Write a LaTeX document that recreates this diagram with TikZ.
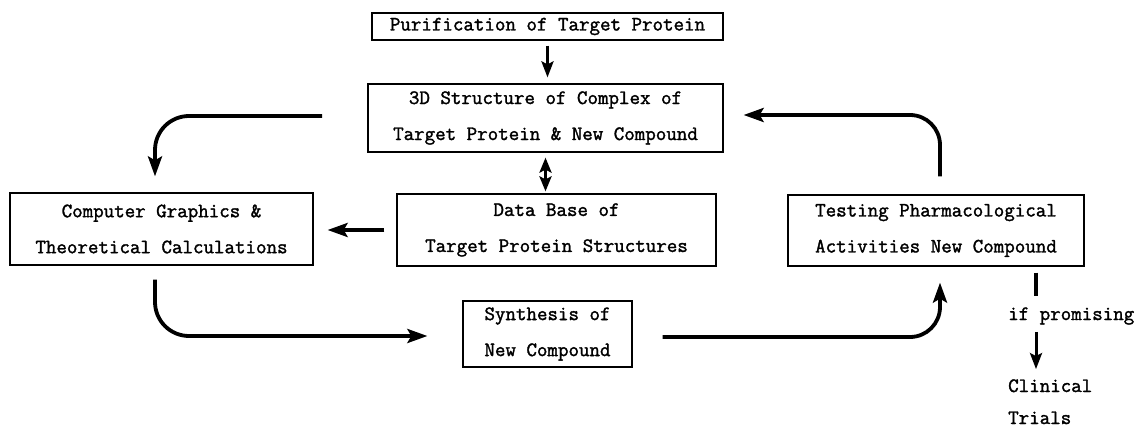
\documentclass[tikz,border=0pt]{standalone}
\usepackage{fontspec}
\newfontfamily\courlike{Latin Modern Mono}[FakeBold=1.6]
\usetikzlibrary{arrows.meta}
\newcommand\boxfont{\fontsize{20.4}{36}\selectfont\courlike}
\begin{document}
\begin{tikzpicture}[x=1pt,y=-1pt,
  box/.style={draw, line width=1.2pt, inner sep=0pt, align=center, font=\boxfont},
  lbl/.style={inner sep=0pt, font=\boxfont, anchor=base west},
  arr/.style={line width=3.8pt, -{Stealth[length=20pt,width=14pt,inset=4pt]}},
  arrs/.style={line width=3pt, -{Stealth[length=16pt,width=12pt,inset=3pt]}},
  dbl/.style={line width=3pt, {Stealth[length=15pt,width=12pt,inset=3pt]}-{Stealth[length=15pt,width=12pt,inset=3pt]}},
  plain/.style={line width=3.5pt}]
\useasboundingbox (0,0) rectangle (1138,428);
\fill[white] (0,0) rectangle (1138,428);

\node[box, minimum width=351pt, minimum height=27pt] (pur) at (547.5,26.5) {Purification of Target Protein};
\node[box, minimum width=355pt, minimum height=68pt] (str) at (545.5,118) {3D Structure of Complex of\\Target Protein \& New Compound};
\node[box, minimum width=319pt, minimum height=72pt] (db) at (556.5,230) {Data Base of\\Target Protein Structures};
\node[box, minimum width=303pt, minimum height=72pt] (cg) at (161.5,229) {Computer Graphics \&\\Theoretical Calculations};
\node[box, minimum width=296pt, minimum height=71pt] (tst) at (936,230.5) {Testing Pharmacological\\Activities New Compound};
\node[box, minimum width=169pt, minimum height=66pt] (syn) at (547.5,334) {Synthesis of\\New Compound};

\node[lbl] (ifp) at (1008,320) {if promising};
\node[lbl] (clin) at (1008,392) {Clinical};
\node[lbl] (tri) at (1008,424) {Trials};

% straight connectors
\draw[arrs, shorten <=5pt, shorten >=6pt] (pur.south) -- (pur.south |- str.north);
\draw[dbl, shorten <=5pt, shorten >=2pt] (str.south) -- (str.south |- db.north);
\draw[arr, shorten <=12pt, shorten >=14pt] (db.west) -- (db.west -| cg.east);

% loop connectors
\coordinate (tl) at (322,116);
\draw[arr, rounded corners=34pt] (tl) -| ([shift={(-6.5,-16)}]cg.north);
\draw[arr, rounded corners=34pt, shorten >=35pt] ([shift={(-6.5,14)}]cg.south) |- ([shift={(0,2)}]syn.west);
\draw[arr, rounded corners=30pt, shorten <=30pt, shorten >=16pt] ([shift={(0,3)}]syn.east) -| ([shift={(4,0)}]tst.south);
\draw[arr, rounded corners=30pt, shorten <=18pt, shorten >=20pt] ([shift={(4,0)}]tst.north) |- ([shift={(0,-3)}]str.east);

% promising branch
\coordinate (ifx) at ([shift={(100,0)}]tst.south);
\draw[plain, shorten <=6pt, shorten >=11pt] (ifx) -- (ifx |- ifp.north);
\draw[arrs, shorten <=7pt, shorten >=10pt] (ifx |- ifp.south) -- (ifx |- clin.north);
\end{tikzpicture}
\end{document}
